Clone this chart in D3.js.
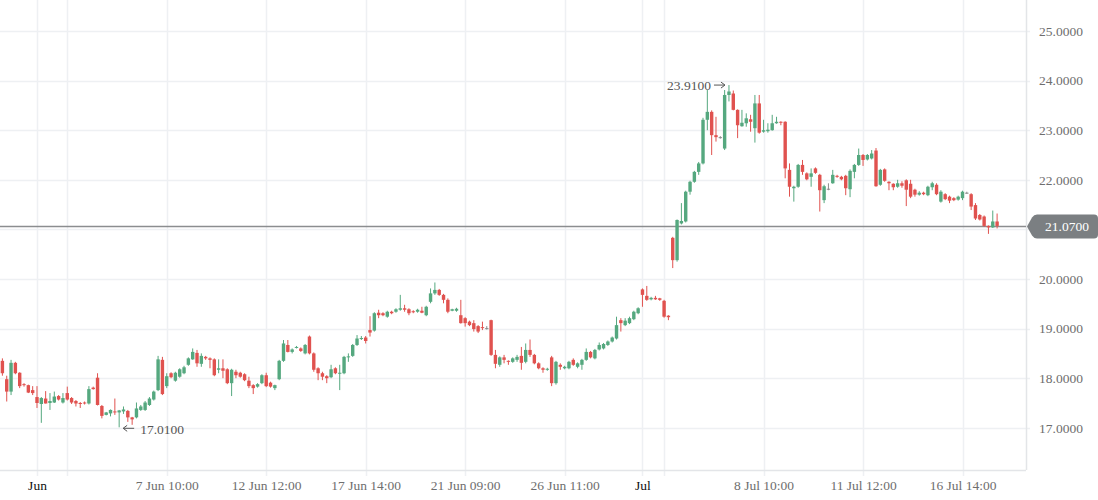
<!DOCTYPE html>
<html><head><meta charset="utf-8">
<script src="https://cdn.jsdelivr.net/npm/d3@7"></script>
<style>
body{margin:0;background:#fff;}
svg{display:block;font-family:"Liberation Serif","Times New Roman",serif;}
</style>
</head><body>
<svg id="chart" width="1098" height="500"></svg>
<script>
// ---- data (hourly bars) ----
const opens = [18.35,17.98,17.73,18.31,18.11,17.88,17.86,17.76,17.62,17.48,17.59,17.50,17.51,17.64,17.51,17.70,17.60,17.54,17.50,17.51,
17.49,17.81,18.01,17.44,17.26,17.29,17.33,17.31,17.33,17.34,17.21,17.21,17.36,17.36,17.46,17.57,17.76,18.37,17.84,18.10,
17.95,18.03,18.10,18.27,18.38,18.51,18.29,18.43,18.40,18.38,18.17,18.20,18.18,17.90,18.13,18.11,18.08,17.95,17.86,17.83,
17.90,18.06,17.91,17.80,17.98,18.35,18.67,18.53,18.62,18.60,18.50,18.84,18.50,18.20,18.10,18.04,18.02,18.20,18.10,18.10,
18.42,18.45,18.67,18.79,18.82,18.97,18.96,19.32,19.31,19.24,19.34,19.34,19.38,19.41,19.39,19.35,19.34,19.36,19.27,19.54,
19.71,19.78,19.68,19.58,19.36,19.36,19.27,19.21,19.14,19.11,19.05,19.03,19.01,19.17,18.47,18.27,18.42,18.35,18.33,18.37,
18.45,18.33,18.57,18.47,18.30,18.20,18.17,18.42,17.90,18.27,18.20,18.20,18.37,18.23,18.27,18.37,18.53,18.40,18.58,18.60,
18.67,18.74,18.80,19.17,19.07,19.11,19.19,19.31,19.79,19.66,19.59,19.62,19.61,19.56,19.26,20.83,20.38,21.12,21.16,21.76,
21.96,22.16,22.33,23.21,23.37,22.90,22.86,22.63,23.71,23.74,23.41,23.08,23.14,23.22,23.04,23.54,22.97,22.98,23.00,23.14,
23.17,23.17,22.20,21.83,21.86,22.30,22.13,22.06,22.23,22.10,21.59,21.82,21.93,22.08,22.06,22.08,21.81,22.16,22.30,22.50,
22.41,22.43,22.59,21.90,22.21,21.96,21.92,21.86,21.93,21.99,21.92,21.80,21.70,21.74,21.69,21.85,21.90,21.56,21.71,21.66,
21.63,21.60,21.63,21.74,21.71,21.49,21.29,21.26,21.07,21.04,21.16];
const highs = [18.40,18.05,18.37,18.33,18.12,17.90,17.87,17.84,17.84,17.62,17.74,17.70,17.73,17.66,17.70,17.83,17.62,17.56,17.52,17.53,
17.84,17.83,18.10,17.46,17.32,17.37,17.59,17.36,17.43,17.36,17.22,17.51,17.46,17.54,17.62,17.75,18.45,18.43,18.10,18.12,
18.13,18.20,18.25,18.42,18.60,18.57,18.50,18.45,18.42,18.40,18.38,18.38,18.20,18.19,18.17,18.13,18.10,18.03,17.88,17.90,
18.08,18.11,17.93,17.87,18.37,18.77,18.77,18.60,18.65,18.62,18.69,18.86,18.52,18.22,18.13,18.06,18.27,18.22,18.27,18.45,
18.50,18.69,18.87,18.85,18.85,19.25,19.33,19.38,19.33,19.36,19.36,19.41,19.68,19.48,19.41,19.37,19.40,19.44,19.46,19.81,
19.93,19.80,19.70,19.61,19.40,19.42,19.58,19.23,19.16,19.17,19.07,19.14,19.05,19.18,18.57,18.44,18.47,18.36,18.42,18.47,
18.63,18.70,18.78,18.49,18.32,18.22,18.21,18.45,18.35,18.30,18.25,18.35,18.40,18.32,18.39,18.60,18.55,18.59,18.72,18.71,
18.76,18.84,19.24,19.21,19.21,19.24,19.36,19.43,19.81,19.86,19.64,19.66,19.62,19.58,19.27,20.85,21.20,21.53,21.78,21.98,
22.18,22.36,23.25,23.81,23.40,23.27,22.88,23.81,23.91,23.80,23.42,23.41,23.34,23.31,23.71,23.71,23.21,23.14,23.31,23.27,
23.18,23.18,22.33,21.88,22.32,22.40,22.15,22.23,22.25,22.12,21.90,21.93,22.20,22.10,22.08,22.10,22.21,22.32,22.63,22.52,
22.52,22.60,22.64,22.22,22.23,21.97,21.93,22.00,21.97,22.01,22.00,21.82,21.77,21.76,21.88,21.96,21.93,21.79,21.73,21.68,
21.65,21.68,21.78,21.76,21.73,21.53,21.31,21.28,21.08,21.38,21.32];
const lows = [18.05,17.53,17.66,18.08,17.80,17.83,17.70,17.66,17.40,17.10,17.49,17.36,17.50,17.55,17.49,17.55,17.48,17.43,17.40,17.47,
17.47,17.77,17.45,17.19,17.25,17.23,17.26,17.01,17.28,17.12,17.06,17.19,17.34,17.34,17.44,17.55,17.74,17.66,17.80,18.00,
17.93,18.01,18.08,18.25,18.37,18.23,18.23,18.37,18.20,18.04,18.10,18.00,17.88,17.64,18.00,18.01,17.94,17.80,17.68,17.81,
17.88,17.82,17.81,17.76,17.96,18.33,18.52,18.50,18.60,18.53,18.48,18.48,18.13,17.96,17.96,17.90,18.00,18.08,17.76,18.08,
18.33,18.43,18.65,18.77,18.70,18.84,18.94,19.21,19.25,19.22,19.29,19.32,19.36,19.34,19.27,19.31,19.32,19.31,19.25,19.51,
19.68,19.66,19.51,19.31,19.35,19.34,19.10,19.04,19.05,18.94,18.91,18.97,18.98,18.45,18.20,18.23,18.30,18.27,18.31,18.33,
18.17,18.30,18.43,18.28,18.18,18.11,18.15,17.84,17.87,18.17,18.18,18.18,18.25,18.20,18.17,18.35,18.40,18.38,18.56,18.58,
18.65,18.72,18.78,18.94,19.05,19.09,19.17,19.29,19.44,19.56,19.57,19.58,19.56,19.22,19.17,20.22,20.35,21.10,21.14,21.70,
21.94,22.10,22.31,23.00,22.50,22.77,22.83,22.60,23.58,23.40,22.84,23.07,23.07,22.97,22.75,22.93,22.95,22.95,22.99,23.13,
23.10,22.03,21.66,21.56,21.84,22.10,21.99,21.86,22.12,21.36,21.53,21.79,21.92,22.04,21.99,21.69,21.65,22.03,22.28,22.28,
22.39,22.41,21.86,21.88,21.96,21.79,21.79,21.84,21.84,21.47,21.63,21.66,21.68,21.69,21.67,21.79,21.69,21.54,21.59,21.53,
21.57,21.58,21.59,21.72,21.39,21.19,21.18,21.05,20.91,21.03,21.02];
const closes = [18.10,17.73,18.31,18.10,17.84,17.86,17.71,17.70,17.50,17.60,17.49,17.54,17.63,17.57,17.60,17.57,17.51,17.49,17.48,17.49,
17.78,17.78,17.46,17.24,17.31,17.36,17.31,17.35,17.37,17.21,17.17,17.39,17.43,17.51,17.59,17.73,18.38,17.68,18.04,18.02,
18.11,18.18,18.22,18.40,18.53,18.30,18.45,18.40,18.37,18.06,18.20,18.15,17.90,18.17,18.06,18.03,17.96,17.84,17.80,17.88,
18.06,17.84,17.83,17.86,18.35,18.70,18.53,18.58,18.63,18.55,18.67,18.50,18.17,18.10,18.03,18.00,18.18,18.10,18.11,18.43,
18.44,18.67,18.80,18.81,18.75,18.92,19.31,19.27,19.27,19.34,19.31,19.39,19.41,19.38,19.31,19.33,19.38,19.32,19.44,19.71,
19.78,19.68,19.58,19.34,19.39,19.40,19.11,19.11,19.07,18.99,18.94,19.01,19.01,18.47,18.29,18.42,18.37,18.33,18.40,18.43,
18.31,18.57,18.47,18.30,18.20,18.17,18.19,17.90,18.33,18.23,18.23,18.33,18.27,18.30,18.37,18.53,18.42,18.57,18.67,18.69,
18.74,18.82,19.07,19.11,19.16,19.21,19.34,19.41,19.68,19.58,19.62,19.59,19.58,19.24,19.23,20.38,21.19,21.17,21.76,21.96,
22.16,22.33,23.21,23.37,22.90,22.86,22.86,23.71,23.78,23.41,23.10,23.15,23.24,23.17,23.54,22.95,23.00,23.01,23.14,23.17,
23.15,22.23,21.86,21.86,22.30,22.16,22.01,22.13,22.14,21.79,21.87,21.82,22.10,22.06,22.01,21.83,22.18,22.30,22.50,22.40,
22.50,22.53,21.87,22.20,21.98,21.93,21.85,21.93,21.88,21.80,21.66,21.70,21.74,21.71,21.86,21.93,21.71,21.76,21.61,21.58,
21.59,21.66,21.76,21.74,21.46,21.22,21.20,21.07,21.04,21.16,21.07];

const priceTicks = [17, 18, 19, 20, 21, 22, 23, 24, 25];
const timeTickBars = [8, 15, 38, 61, 84, 107, 130, 148, 153, 176, 199, 222];
const timeTickLabels = ["Jun", "", "7 Jun 10:00", "12 Jun 12:00", "17 Jun 14:00", "21 Jun 09:00",
  "26 Jun 11:00", "Jul", "", "8 Jul 10:00", "11 Jul 12:00", "16 Jul 14:00"];
const monthLabels = ["Jun", "Jul"];

// ---- drawing ----
const W = 1098, H = 500, plotR = 1026, plotB = 470;
const N = opens.length;
const bars = d3.range(N).map(i => ({i, o: opens[i], h: highs[i], l: lows[i], c: closes[i]}));
const lastClose = closes[N - 1];

const svg = d3.select("#chart");
const x = d3.scaleLinear().domain([0, N - 1]).range([2.4, 997.1]);
const y = d3.scaleLinear().domain([17, 25]).range([427.8, 31]);

const gridColor = "#eef0f3", axisColor = "#e3e5e8";
const upColor = "#55a87f", downColor = "#e0524f", flatColor = "#8c8c8c";

// grid
const grid = svg.append("g");
grid.selectAll("line.v").data(timeTickBars).join("line")
  .attr("x1", d => Math.round(x(d)) + 0.5).attr("x2", d => Math.round(x(d)) + 0.5)
  .attr("y1", 0).attr("y2", plotB + 6)
  .attr("stroke", gridColor).attr("stroke-width", 1.5);
grid.selectAll("line.h").data(priceTicks).join("line")
  .attr("x1", 0).attr("x2", plotR + 4)
  .attr("y1", d => Math.round(y(d)) + 0.5).attr("y2", d => Math.round(y(d)) + 0.5)
  .attr("stroke", gridColor).attr("stroke-width", 1.5);

// axis borders
svg.append("line").attr("x1", 0).attr("x2", plotR).attr("y1", plotB + 0.5).attr("y2", plotB + 0.5)
  .attr("stroke", axisColor).attr("stroke-width", 1.5);
svg.append("line").attr("x1", plotR + 0.5).attr("x2", plotR + 0.5).attr("y1", 0).attr("y2", plotB)
  .attr("stroke", axisColor).attr("stroke-width", 1.5);

// price axis labels (the one hidden behind the last-price tag is dropped)
const visiblePriceTicks = priceTicks.filter(v => Math.abs(y(v) - y(lastClose)) > 14);
const yAxis = d3.axisRight(y).tickValues(visiblePriceTicks).tickFormat(d3.format(".4f")).tickSize(0).tickPadding(0);
const ya = svg.append("g").attr("transform", `translate(${plotR + 13},0)`).call(yAxis);
ya.select(".domain").remove();
ya.selectAll("text").attr("fill", "#6e6e6e").attr("font-size", 13.5)
  .attr("font-family", "Liberation Serif, Times New Roman, serif");

// time axis labels
const xAxis = d3.axisBottom(x).tickValues(timeTickBars)
  .tickFormat((d, k) => timeTickLabels[k]).tickSize(0).tickPadding(0);
const xa = svg.append("g").attr("transform", `translate(0,${plotB + 10})`).call(xAxis);
xa.select(".domain").remove();
xa.selectAll("text")
  .attr("font-size", 13.5).attr("font-family", "Liberation Serif, Times New Roman, serif")
  .attr("fill", (d, k) => monthLabels.includes(timeTickLabels[k]) ? "#111" : "#6e6e6e");

// last price line
const yl = Math.round(y(lastClose)) + 0.5;
svg.append("line").attr("x1", 0).attr("x2", plotR).attr("y1", yl).attr("y2", yl)
  .attr("stroke", "#8b8d8f").attr("stroke-width", 1.3);

// candles
const cg = svg.append("g");
const col = d => d.c > d.o ? upColor : (d.c < d.o ? downColor : flatColor);
cg.selectAll("line.w").data(bars).join("line")
  .attr("x1", d => x(d.i)).attr("x2", d => x(d.i))
  .attr("y1", d => y(d.h)).attr("y2", d => y(d.l))
  .attr("stroke", col).attr("stroke-width", 1);
cg.selectAll("rect").data(bars).join("rect")
  .attr("x", d => x(d.i) - 1.7).attr("width", 3.4)
  .attr("y", d => y(Math.max(d.o, d.c)))
  .attr("height", d => Math.max(1, Math.abs(y(d.o) - y(d.c))))
  .attr("fill", col);

// last price label
const lbl = svg.append("g").attr("transform", `translate(${plotR + 1},${yl})`);
lbl.append("path")
  .attr("d", "M0,0 L5,-9 Q7,-12 10,-12 L67,-12 Q71,-12 71,-8 L71,8 Q71,12 67,12 L10,12 Q7,12 5,9 Z")
  .attr("fill", "#7b7f82");
lbl.append("text").attr("x", 40).attr("y", 4.5).attr("text-anchor", "middle")
  .attr("fill", "#fff").attr("font-size", 13.5).text(d3.format(".4f")(lastClose));

// high / low markers
const hiIdx = d3.maxIndex(highs), loIdx = d3.minIndex(lows);
const mk = svg.append("g").attr("font-size", 13.5).attr("fill", "#555");
function arrow(x1, x2, yy) {
  const dir = Math.sign(x2 - x1);
  mk.append("line").attr("x1", x1).attr("x2", x2).attr("y1", yy).attr("y2", yy)
    .attr("stroke", "#555").attr("stroke-width", 1);
  mk.append("path").attr("d", `M${x2 - dir * 4},${yy - 3} L${x2},${yy} L${x2 - dir * 4},${yy + 3}`)
    .attr("fill", "none").attr("stroke", "#555").attr("stroke-width", 1);
}
const hx = x(hiIdx), hy = y(highs[hiIdx]);
arrow(hx - 15, hx - 4, hy);
mk.append("text").attr("x", hx - 18).attr("y", hy + 4.5).attr("text-anchor", "end")
  .text(d3.format(".4f")(highs[hiIdx]));
const lx = x(loIdx), ly = y(lows[loIdx]);
arrow(lx + 15, lx + 4, ly + 1);
mk.append("text").attr("x", lx + 21).attr("y", ly + 7).attr("text-anchor", "start")
  .text(d3.format(".4f")(lows[loIdx]));
</script>
</body></html>
